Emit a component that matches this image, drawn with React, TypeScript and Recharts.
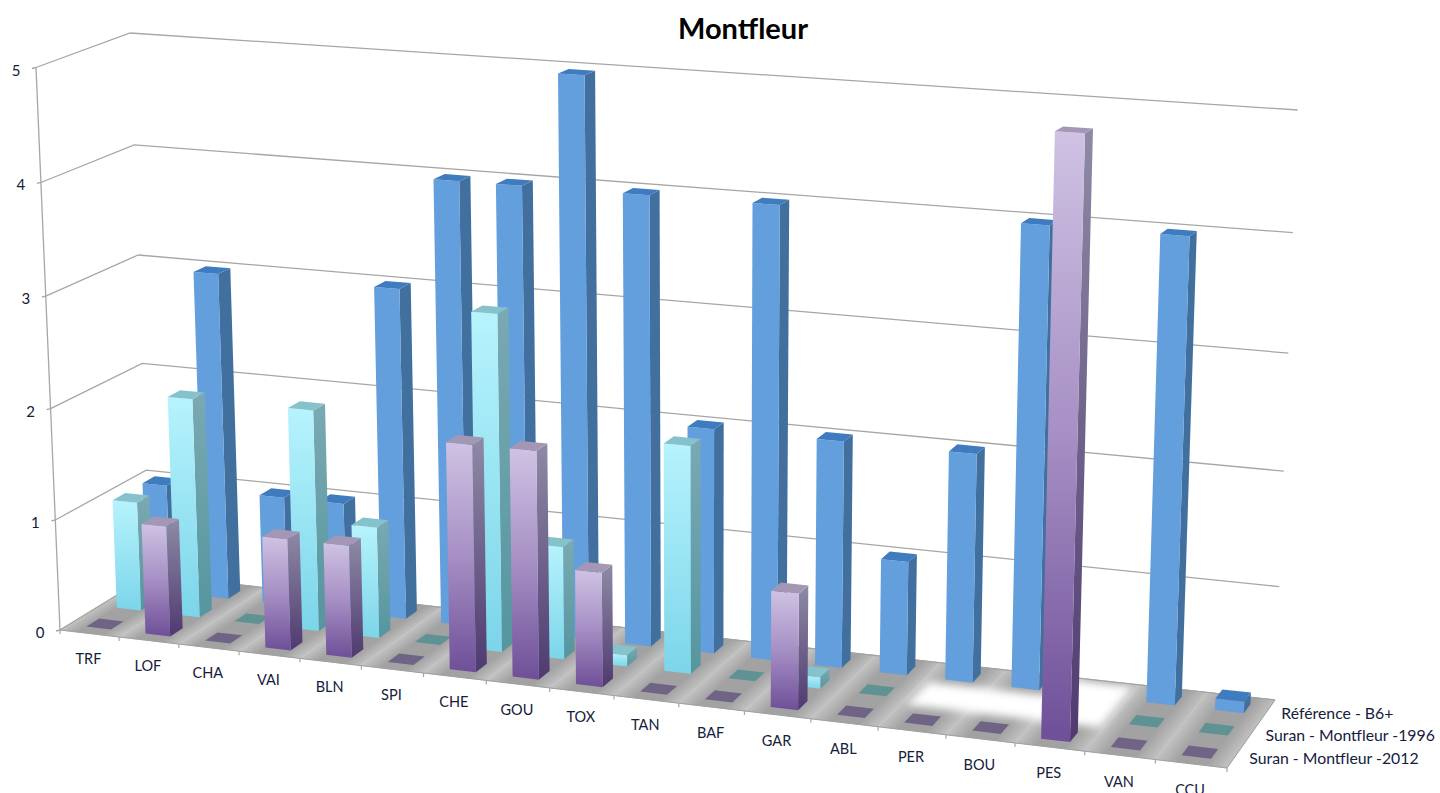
import React from "react";
import { BarChart, Bar, XAxis, YAxis, Customized } from "recharts";

const categories = ["TRF","LOF","CHA","VAI","BLN","SPI","CHE","GOU","TOX","TAN","BAF","GAR","ABL","PER","BOU","PES","VAN","CCU"];
const reference = [1,3,1,1,3,4,4,5,4,2,4,2,1,2,4,null,4,0.1];
const suran1996 = [1,2,0,2,1,0,3,1,0.1,2,0,0.1,0,null,null,null,0,0];
const suran2012 = [0,1,0,1,1,0,2,2,1,0,0,1,0,0,0,5,0,0];
const seriesNames = ["Référence - B6+","Suran - Montfleur -1996","Suran - Montfleur -2012"];
const valueTicks = [0,1,2,3,4,5];
const title = "Montfleur";

const data = categories.map((name, i) => ({ name, reference: reference[i], s1996: suran1996[i], s2012: suran2012[i] }));

// plot rectangle handed to the library; its scales are then projected onto the floor plane
const W = 1440, H = 793;
const PL = 60, PW = 1180, PT = 60, PH = 633;
const N = categories.length;

// projective floor: unit square (u along categories, d towards the back) to the screen
const q0 = [60, 630], q1 = [1227, 768], q2 = [1275, 700], q3 = [150, 575];
const dx1 = q1[0]-q2[0], dx2 = q3[0]-q2[0], sx = q0[0]-q1[0]+q2[0]-q3[0];
const dy1 = q1[1]-q2[1], dy2 = q3[1]-q2[1], sy = q0[1]-q1[1]+q2[1]-q3[1];
const det = dx1*dy2-dx2*dy1;
const G = (sx*dy2-dx2*sy)/det, Hh = (dx1*sy-sx*dy1)/det;
const A = q1[0]-q0[0]+G*q1[0], B = q3[0]-q0[0]+Hh*q3[0];
const D = q1[1]-q0[1]+G*q1[1], E = q3[1]-q0[1]+Hh*q3[1];

function floorPt(uIn: number, d: number) {
  const u = uIn + 0.024*uIn*(1-uIn)*(1-0.4*uIn);
  const w = G*u+Hh*d+1;
  return [(A*u+B*d+q0[0])/w, (D*u+E*d+q0[1])/w];
}
function unit(u: number, d: number) {
  return (112.5*(1-u)+125*u)*(1-d)+(108.4*(1-u)+118*u)*d;
}
function project(u: number, d: number, v: number, c = 0.0055) {
  const [x, y] = floorPt(u, d);
  const h = v*(1-c*(5-v))*unit(u, d);
  return [x+(x-700)/15000*h, y-h];
}
const pts = (list: number[][]) => list.map(p => `${p[0].toFixed(1)},${p[1].toFixed(1)}`).join(" ");

const BAR_U = 0.415 / N; // footprint along categories
const BAR_D = 0.42 / 3; // footprint along depth
const BAR_SCALE = 0.992;

type Palette = { row: number; front: string; side: string; top: string; tile: string | null };
const palettes: Palette[] = [
  { row: 2, front: "#639fdc", side: "#41709f", top: "#3f7bbf", tile: null },
  { row: 1, front: "url(#cyanFront)", side: "url(#cyanSide)", top: "#86c2cc", tile: "#5f9393" },
  { row: 0, front: "url(#purpleFront)", side: "url(#purpleSide)", top: "#a397b5", tile: "#6f6485" },
];

function bar3d(pal: Palette) {
  return (props: any) => {
    const { x, width, height, value } = props;
    if (value == null || (Array.isArray(value) && value[1] == null)) return <g />;
    const u = (x + width/2 - PL) / PW;
    const v = (height || 0) / PH * 5 * BAR_SCALE;
    const dc = (pal.row + 0.5) / 3;
    const u0 = u-BAR_U/2, u1 = u+BAR_U/2, d0 = dc-BAR_D/2, d1 = dc+BAR_D/2;
    if (v === 0) {
      return pal.tile ? <polygon points={pts([floorPt(u0,d0),floorPt(u1,d0),floorPt(u1,d1),floorPt(u0,d1)])} fill={pal.tile} /> : <g />;
    }
    return (
      <g>
        <polygon points={pts([project(u1,d0,0),project(u1,d1,0),project(u1,d1,v),project(u1,d0,v)])} fill={pal.side} />
        <polygon points={pts([project(u0,d0,0),project(u1,d0,0),project(u1,d0,v),project(u0,d0,v)])} fill={pal.front} />
        <polygon points={pts([project(u0,d0,v),project(u1,d0,v),project(u1,d1,v),project(u0,d1,v)])} fill={pal.top} />
      </g>
    );
  };
}

const GRID = "#a6a6a6";
const TEXT = "#14203c";
const FONT = "Lato, 'Open Sans', sans-serif";

function Walls() {
  const cells = categories.map((_, i) => {
    const a = floorPt(i/N,0), b = floorPt((i+1)/N,0), c = floorPt((i+1)/N,1), e = floorPt(i/N,1);
    const bx = e[0]-a[0], by = e[1]-a[1], len = Math.hypot(bx,by);
    const nx = -by/len, ny = bx/len;
    const t = (b[0]-a[0])*nx+(b[1]-a[1])*ny;
    return { a, b, c, e, x2: a[0]+nx*t, y2: a[1]+ny*t };
  });
  const glow = [[13.1,0.34],[15.95,0.34],[15.95,0.97],[15.1,0.97],[15.1,0.70],[13.1,0.70]];
  return (
    <g>
      <defs>
        <linearGradient id="cyanFront" x1="0" y1="0" x2="0" y2="1"><stop offset="0" stopColor="#b6f3fd"/><stop offset="1" stopColor="#7cd5e9"/></linearGradient>
        <linearGradient id="cyanSide" x1="0" y1="0" x2="0" y2="1"><stop offset="0" stopColor="#7aa9b2"/><stop offset="1" stopColor="#55969f"/></linearGradient>
        <linearGradient id="purpleFront" x1="0" y1="0" x2="0" y2="1"><stop offset="0" stopColor="#cfc2e3"/><stop offset="0.5" stopColor="#a68fc4"/><stop offset="1" stopColor="#6e4f98"/></linearGradient>
        <linearGradient id="purpleSide" x1="0" y1="0" x2="0" y2="1"><stop offset="0" stopColor="#8e8aa5"/><stop offset="1" stopColor="#4f3a70"/></linearGradient>
        <filter id="soft" x="-20%" y="-50%" width="140%" height="200%"><feGaussianBlur stdDeviation="4"/></filter>
        {cells.map((c, i) => (
          <linearGradient key={i} id={`cell${i}`} gradientUnits="userSpaceOnUse" x1={c.a[0]} y1={c.a[1]} x2={c.x2} y2={c.y2}>
            <stop offset="0" stopColor="#c2c2c2"/><stop offset="0.3" stopColor="#a2a2a2"/><stop offset="0.7" stopColor="#a2a2a2"/><stop offset="1" stopColor="#c2c2c2"/>
          </linearGradient>
        ))}
      </defs>
      {valueTicks.map(v => (
        <g key={v}>
          <polyline points={pts([project(0,0,v),project(0,1,v,0.008),project(1,1,v,0.01)])} fill="none" stroke={GRID} strokeWidth={1.3} />
          <line x1={project(0,0,v)[0]-4} y1={project(0,0,v)[1]+1} x2={project(0,0,v)[0]} y2={project(0,0,v)[1]} stroke={GRID} strokeWidth={1.3} />
        </g>
      ))}
      <line x1={project(0,0,0)[0]} y1={project(0,0,0)[1]} x2={project(0,0,5)[0]} y2={project(0,0,5)[1]} stroke={GRID} strokeWidth={1.3} />
      {cells.map((c, i) => <polygon key={i} points={pts([c.a,c.b,c.c,c.e])} fill={`url(#cell${i})`} stroke={`url(#cell${i})`} strokeWidth={0.6} />)}
      <polygon points={pts(glow.map(g => floorPt(g[0]/N, g[1])))} fill="#ffffff" filter="url(#soft)" />
      <polygon points={pts([q0,q1,q2,q3])} fill="none" stroke="#a0a0a0" strokeWidth={1} />
      {Array.from({ length: N+1 }, (_, i) => {
        const p = floorPt(i/N,0);
        return <line key={i} x1={p[0]} y1={p[1]} x2={p[0]} y2={p[1]+4} stroke={GRID} strokeWidth={1.2} />;
      })}
      {seriesNames.map((name, i) => {
        const p = floorPt(1, (2-i+0.5)/3);
        return <text key={name} x={p[0]+14} y={p[1]+8} fontFamily={FONT} fontSize={15.8} fill={TEXT}>{name}</text>;
      })}
      <text x={743} y={39} textAnchor="middle" fontFamily={FONT} fontWeight={700} fontSize={29} fill="#000">{title}</text>
    </g>
  );
}

function XTick(props: any) {
  const u = (props.x - PL) / PW;
  const p = floorPt(u, 0);
  return <text x={p[0]-1} y={p[1]+30+1.5*u} textAnchor="middle" fontFamily={FONT} fontSize={14.5} fill={TEXT}>{props.payload.value}</text>;
}
function YTick(props: any) {
  const p = project(0, 0, props.payload.value);
  return <text x={p[0]-20} y={p[1]+8} textAnchor="middle" fontFamily={FONT} fontSize={15} fill={TEXT}>{props.payload.value}</text>;
}

export default function App() {
  return (
    <div style={{ position: "absolute", left: 0, top: 0, width: W, height: H, overflow: "hidden", background: "#fff" }}>
      <BarChart width={W} height={H} data={data} margin={{ top: PT, right: W-PL-PW, bottom: 0, left: 0 }} barSize={20} barGap={-20}>
        <Customized component={Walls} />
        <XAxis dataKey="name" height={H-PT-PH} axisLine={false} tickLine={false} tick={XTick} interval={0} />
        <YAxis width={PL} domain={[0,5]} ticks={valueTicks} axisLine={false} tickLine={false} tick={YTick} />
        <Bar dataKey="reference" name={seriesNames[0]} isAnimationActive={false} shape={bar3d(palettes[0])} />
        <Bar dataKey="s1996" name={seriesNames[1]} isAnimationActive={false} shape={bar3d(palettes[1])} />
        <Bar dataKey="s2012" name={seriesNames[2]} isAnimationActive={false} shape={bar3d(palettes[2])} />
      </BarChart>
    </div>
  );
}
